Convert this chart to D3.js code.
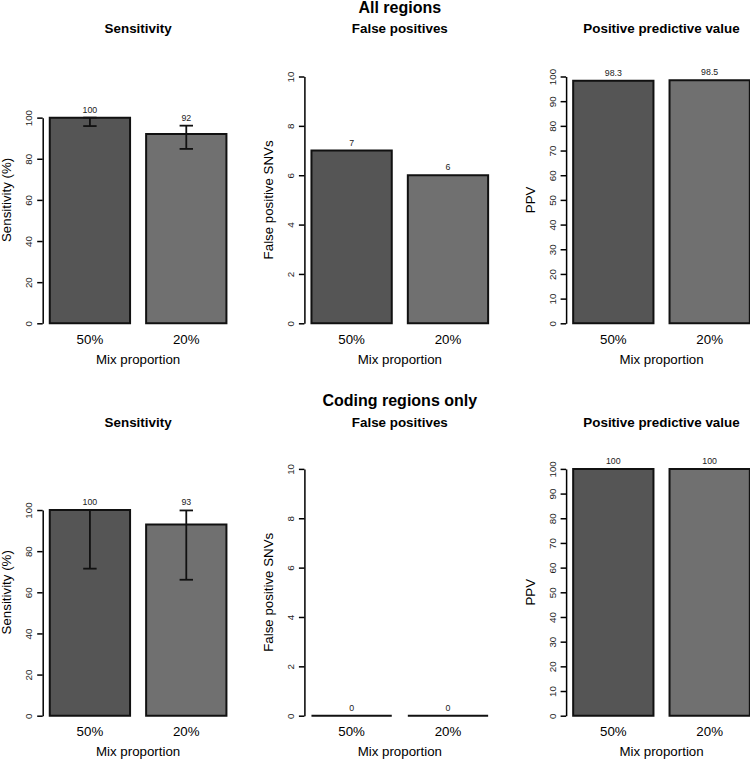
<!DOCTYPE html>
<html>
<head>
<meta charset="utf-8">
<script src="https://cdn.jsdelivr.net/npm/d3@7"></script>
<style>
  html, body { margin: 0; padding: 0; background: #ffffff; }
  svg { display: block; font-family: "Liberation Sans", Arial, Helvetica, sans-serif; }
</style>
</head>
<body>
<svg id="chart" width="750" height="759"></svg>
<script>
// ---------- data ----------
const categories = ["50%", "20%"];
const sectionTitles = ["All regions", "Coding regions only"];
const panelTitles = ["Sensitivity", "False positives", "Positive predictive value"];
const yLabels = ["Sensitivity (%)", "False positive SNVs", "PPV"];
const xLabel = "Mix proportion";

const allSensitivity = [100, 92];
const allSensitivityLow = [95.9, 84.8];
const allSensitivityHigh = [100, 96.1];
const allFalsePositives = [7, 6];
const allPPV = [98.3, 98.5];

const codingSensitivity = [100, 93];
const codingSensitivityLow = [71.5, 66.1];
const codingSensitivityHigh = [100, 99.8];
const codingFalsePositives = [0, 0];
const codingPPV = [100, 100];

const sensitivityTicks = [0, 20, 40, 60, 80, 100];
const falsePositiveTicks = [0, 2, 4, 6, 8, 10];
const ppvTicks = [0, 10, 20, 30, 40, 50, 60, 70, 80, 90, 100];
const yMax = [120, 10, 100];

const barColors = ["#555555", "#707070"];

// ---------- layout ----------
const svg = d3.select("#chart");
const colLeft = [42.7, 304.4, 566.1];
const regionW = 190.8;
const rowZero = [323.3, 715.7];
const plotH = 246.8;
const outerTitleY = [13, 405.5];
const panelTitleY = [33, 426.5];

const rows = [
  { sens: allSensitivity, lo: allSensitivityLow, hi: allSensitivityHigh, fp: allFalsePositives, ppv: allPPV },
  { sens: codingSensitivity, lo: codingSensitivityLow, hi: codingSensitivityHigh, fp: codingFalsePositives, ppv: codingPPV }
];
const tickSets = [sensitivityTicks, falsePositiveTicks, ppvTicks];

rows.forEach((row, r) => {
  const zero = rowZero[r];
  // section title centered over middle panel
  svg.append("text")
    .attr("x", colLeft[1] + regionW / 2)
    .attr("y", outerTitleY[r])
    .attr("text-anchor", "middle")
    .attr("font-size", 16)
    .attr("font-weight", "bold")
    .attr("fill", "#000")
    .text(sectionTitles[r]);

  const panelValues = [row.sens, row.fp, row.ppv];
  panelValues.forEach((vals, c) => {
    const left = colLeft[c];
    const g = svg.append("g");
    const x = d3.scaleBand().domain(categories)
      .range([left, left + regionW])
      .paddingInner(1 / 6).paddingOuter(0.0733);
    const y = d3.scaleLinear().domain([0, yMax[c]]).range([zero, zero - plotH]);
    const ticks = tickSets[c];
    const lastTick = ticks[ticks.length - 1];

    // panel title
    g.append("text")
      .attr("x", left + regionW / 2)
      .attr("y", panelTitleY[r])
      .attr("text-anchor", "middle")
      .attr("font-size", 13.4)
      .attr("font-weight", "bold")
      .attr("fill", "#000")
      .text(panelTitles[c]);

    // y axis
    const axisScale = d3.scaleLinear().domain([0, lastTick]).range([y(0), y(lastTick)]);
    const ax = g.append("g")
      .attr("transform", `translate(${left},0)`)
      .call(d3.axisLeft(axisScale).tickValues(ticks).tickSize(5.5).tickSizeOuter(0).tickFormat(d3.format("d")));
    ax.select(".domain").attr("stroke", "#000").attr("stroke-width", 1.5);
    ax.selectAll(".tick line").attr("stroke", "#000").attr("stroke-width", 1.5);
    ax.selectAll(".tick text")
      .attr("x", 0).attr("y", 0).attr("dy", 0)
      .attr("text-anchor", "middle")
      .attr("transform", "translate(-10.5,0) rotate(-90)")
      .attr("font-size", 9.8)
      .attr("font-family", "Liberation Sans, Arial, sans-serif")
      .attr("fill", "#222");

    // y label
    g.append("text")
      .attr("transform", `translate(${left - 31.5},${(zero + y(yMax[c])) / 2}) rotate(-90)`)
      .attr("text-anchor", "middle")
      .attr("font-size", 13.3)
      .attr("fill", "#000")
      .text(yLabels[c]);

    // bars (paths so zero-height bars still show their border)
    g.selectAll("path.bar").data(categories).enter().append("path")
      .attr("class", "bar")
      .attr("d", (d, i) => {
        const x0 = x(d), x1 = x(d) + x.bandwidth();
        const y0 = y(0), y1 = y(vals[i]);
        return `M${x0},${y0}H${x1}V${y1}H${x0}Z`;
      })
      .attr("fill", (d, i) => barColors[i])
      .attr("stroke", "#111")
      .attr("stroke-width", 2);

    // error bars (sensitivity only)
    let tops = vals.map(v => y(v));
    if (c === 0) {
      categories.forEach((d, i) => {
        const cx = x(d) + x.bandwidth() / 2;
        const yl = y(row.lo[i]), yh = y(row.hi[i]);
        g.append("line").attr("x1", cx).attr("x2", cx).attr("y1", yl).attr("y2", yh)
          .attr("stroke", "#111").attr("stroke-width", 1.8);
        [yl, yh].forEach(yy => {
          g.append("line").attr("x1", cx - 6.7).attr("x2", cx + 6.7).attr("y1", yy).attr("y2", yy)
            .attr("stroke", "#111").attr("stroke-width", 1.8);
        });
        tops[i] = Math.min(tops[i], yh);
      });
    }

    // value labels
    categories.forEach((d, i) => {
      g.append("text")
        .attr("x", x(d) + x.bandwidth() / 2)
        .attr("y", tops[i] - 5)
        .attr("text-anchor", "middle")
        .attr("font-size", 8.8)
        .attr("fill", "#222")
        .text(String(vals[i]));
    });

    // category labels
    categories.forEach((d, i) => {
      g.append("text")
        .attr("x", x(d) + x.bandwidth() / 2)
        .attr("y", zero + 20.2)
        .attr("text-anchor", "middle")
        .attr("font-size", 13.3)
        .attr("fill", "#000")
        .text(d);
    });

    // x label
    g.append("text")
      .attr("x", left + regionW / 2)
      .attr("y", zero + 40.6)
      .attr("text-anchor", "middle")
      .attr("font-size", 13.3)
      .attr("fill", "#000")
      .text(xLabel);
  });
});
</script>
</body>
</html>
